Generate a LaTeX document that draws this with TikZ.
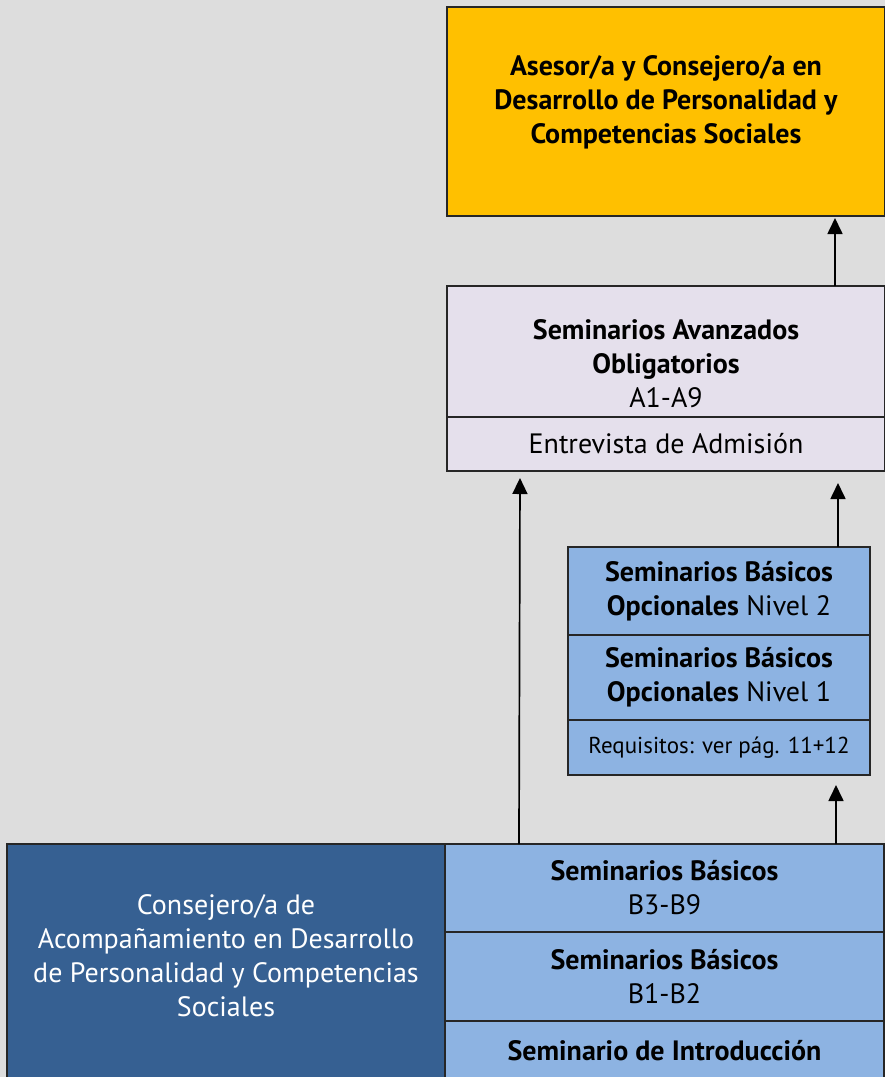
\documentclass[tikz,border=0pt]{standalone}
\usepackage{fontspec}
\setmainfont{PT Sans}
\usetikzlibrary{positioning,arrows.meta}
\definecolor{bgGray}{HTML}{DDDDDD}
\definecolor{asesorOrange}{HTML}{FFC000}
\definecolor{avzLilac}{HTML}{E5E0EC}
\definecolor{basBlue}{HTML}{8DB3E2}
\definecolor{consBlue}{HTML}{366092}
\begin{document}
\begin{tikzpicture}[x=1pt, y=-1pt,
    box/.style={draw=black!85, line width=1.2pt, inner sep=0pt, outer sep=0pt,
      anchor=north west, align=center, font=\fontsize{28}{34}\selectfont},
    boxtext/.style={align=center, font=\fontsize{28}{34}\selectfont},
    flow/.style={-{Triangle[length=16pt,width=15pt]}, line width=1.7pt}]
    \useasboundingbox (0,0) rectangle (885,1077);
    \clip (0,0) rectangle (885,1077);
    \fill[bgGray] (0,0) rectangle (885,1077);
    % top goal
    \node[box, fill=asesorOrange, minimum width=438pt, minimum height=209pt] (asesor) at (447,7) {};
    \node[boxtext] (asesorText) at ([yshift=9.5pt]asesor.center)
      {\textbf{Asesor/a y Consejero/a en}\\\textbf{Desarrollo de Personalidad y}\\\textbf{Competencias Sociales}};
    % advanced seminars
    \node[box, fill=avzLilac, minimum width=438pt, minimum height=131pt] (avz) at (447,286) {};
    \node[boxtext] (avzText) at ([yshift=-12.5pt]avz.center)
      {\textbf{Seminarios Avanzados}\\\textbf{Obligatorios}\\A1-A9};
    \node[box, fill=avzLilac, minimum width=438pt, minimum height=54pt, below=0pt of avz] (entrevista) {Entrevista de Admisión};
    % optional seminars
    \node[box, fill=basBlue, minimum width=302pt, minimum height=88pt] (opt2) at (568,547)
      {\textbf{Seminarios Básicos}\\\textbf{Opcionales} Nivel 2};
    \node[box, fill=basBlue, minimum width=302pt, minimum height=85pt, below=0pt of opt2] (opt1)
      {\textbf{Seminarios Básicos}\\\textbf{Opcionales} Nivel 1};
    \node[box, fill=basBlue, minimum width=302pt, minimum height=55pt, below=0pt of opt1,
      font=\fontsize{23}{28}\selectfont] (req) {Requisitos: ver pág. 11+12};
    % counsellor and basic seminars
    \node[box, fill=consBlue, minimum width=438pt, minimum height=240pt] (cons) at (7,844) {};
    \node[boxtext, text=white] (consText) at ([yshift=8pt]cons.center)
      {Consejero/a de\\Acompañamiento en Desarrollo\\de Personalidad y Competencias\\Sociales};
    \node[box, fill=basBlue, minimum width=439pt, minimum height=88pt] (bas39) at (445,844)
      {\textbf{Seminarios Básicos}\\B3-B9};
    \node[box, fill=basBlue, minimum width=439pt, minimum height=89pt, below=0pt of bas39] (bas12)
      {\textbf{Seminarios Básicos}\\B1-B2};
    \node[box, fill=basBlue, minimum width=439pt, minimum height=60pt, below=0pt of bas12] (intro)
      {\textbf{Seminario de Introducción}};
    % arrows
    \draw[flow, shorten >=2pt] ([xshift=-50pt]avz.north east) -- ([xshift=-50pt]asesor.south east);
    \draw[flow, shorten >=7pt] ([xshift=74pt]bas39.north west) -- ([xshift=73pt]entrevista.south west);
    \draw[flow, shorten >=12pt] ([xshift=-32pt]opt2.north east) -- ([xshift=-47pt]entrevista.south east);
    \draw[flow, shorten >=10pt] ([xshift=-48pt]bas39.north east) -- ([xshift=-34pt]req.south east);
\end{tikzpicture}
\end{document}
